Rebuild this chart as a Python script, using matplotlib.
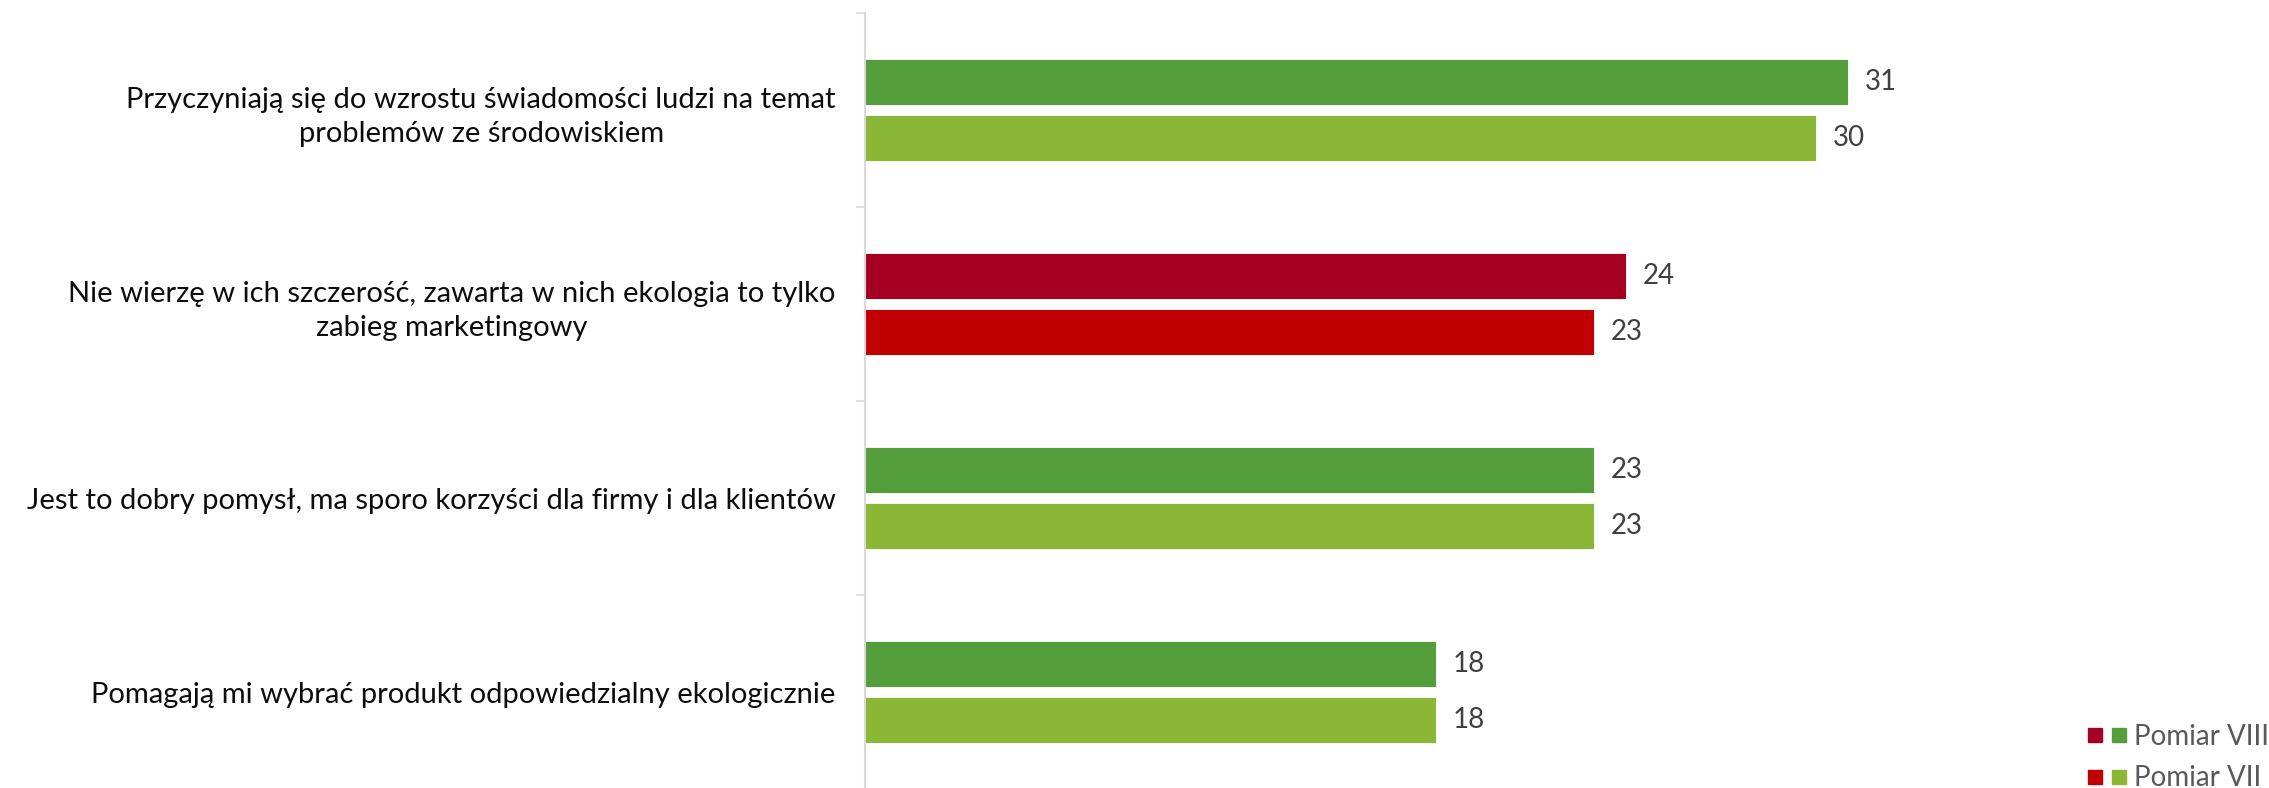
import matplotlib
matplotlib.use("Agg")
import matplotlib.pyplot as plt
from matplotlib.lines import Line2D
from matplotlib.legend_handler import HandlerTuple
import numpy as np

plt.rcParams['font.family'] = ['Lato', 'DejaVu Sans']

categories = [
    "Przyczyniają się do wzrostu świadomości ludzi na temat\nproblemów ze środowiskiem",
    "Nie wierzę w ich szczerość, zawarta w nich ekologia to tylko\nzabieg marketingowy",
    "Jest to dobry pomysł, ma sporo korzyści dla firmy i dla klientów",
    "Pomagają mi wybrać produkt odpowiedzialny ekologicznie",
]
pomiar_viii = [31, 24, 23, 18]
pomiar_vii = [30, 23, 23, 18]
series_names = ["Pomiar VIII", "Pomiar VII"]

# negative statement gets the red pair, the rest green
GREEN_DARK, GREEN_LIGHT = "#539E3A", "#8BB736"
RED_DARK, RED_LIGHT = "#A50021", "#C00000"
negative = [False, True, False, False]

fig = plt.figure(figsize=(22.69, 7.88), dpi=100)
ax = fig.add_axes([865 / 2269, -1 / 788, 1205 / 2269, 776 / 788])

y = np.arange(len(categories))
bar_h = 0.24
off = 0.145
col_viii = [RED_DARK if n else GREEN_DARK for n in negative]
col_vii = [RED_LIGHT if n else GREEN_LIGHT for n in negative]

b1 = ax.barh(y - off, pomiar_viii, height=bar_h, color=col_viii, edgecolor='white', linewidth=0.6)
b2 = ax.barh(y + off, pomiar_vii, height=bar_h, color=col_vii, edgecolor='white', linewidth=0.6)

for bars, vals in [(b1, pomiar_viii), (b2, pomiar_vii)]:
    for bar, v in zip(bars, vals):
        ax.annotate(str(v), (bar.get_width(), bar.get_y() + bar.get_height() / 2),
                    xytext=(12, 0), textcoords='offset points', va='center', ha='left',
                    fontsize=20, color='#404040')

ax.set_xlim(0, 38)
ax.set_ylim(len(categories) - 0.5, -0.5)
ax.set_yticks(y)
ax.set_yticklabels(categories, fontsize=21, color='#0d0d0d',
                   multialignment='center', linespacing=1.4)
ax.set_yticks(np.arange(-0.5, len(categories), 1.0), minor=True)
ax.tick_params(axis='y', which='major', length=0, pad=21)
ax.tick_params(axis='y', which='minor', length=6.5, width=1.2, color='#d9d9d9')
ax.set_xticks([])
for s in ['top', 'right', 'bottom']:
    ax.spines[s].set_visible(False)
ax.spines['left'].set_color('#d9d9d9')
ax.spines['left'].set_linewidth(1.5)

# legend: red + green square for each measurement
def sq(c):
    return Line2D([], [], marker='s', linestyle='none', markersize=10.5, color=c)

handles = [(sq(RED_DARK), sq(GREEN_DARK)), (sq(RED_LIGHT), sq(GREEN_LIGHT))]
fig.legend(handles, series_names, handler_map={tuple: HandlerTuple(ndivide=None, pad=0.35)},
           loc='upper left', bbox_to_anchor=(2088 / 2269, 1 - 724 / 788),
           frameon=False, fontsize=20, labelcolor='#595959', handlelength=1.35,
           handletextpad=0.3, labelspacing=0.55, borderpad=0, borderaxespad=0)

fig.savefig("out.png", dpi=100)
